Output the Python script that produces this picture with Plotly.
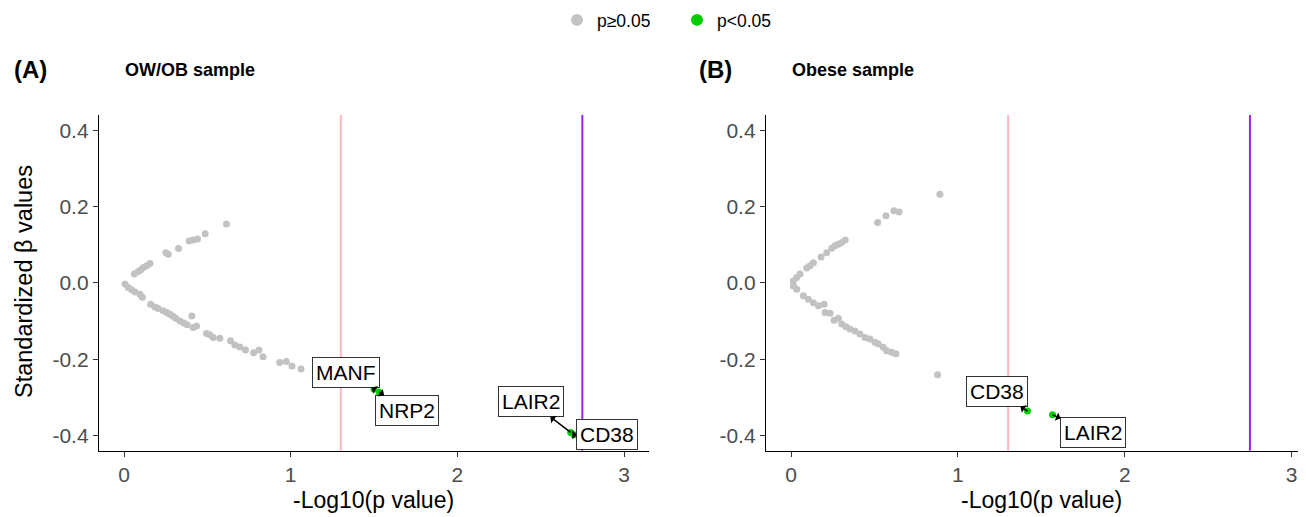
import plotly.graph_objects as go

# ---------------- data ----------------
# Panel A (OW/OB sample): non-significant points
a_grey_x = [0.615, 0.487, 0.441, 0.415, 0.391, 0.327, 0.265, 0.251, 0.156, 0.136, 0.116, 0.100, 0.086, 0.062,
            0.006, 0.026, 0.046, 0.066, 0.096, 0.110,
            0.160, 0.186, 0.205, 0.235, 0.256, 0.275, 0.292, 0.311, 0.335, 0.359, 0.379, 0.407, 0.415, 0.435,
            0.495, 0.515, 0.535, 0.575, 0.639, 0.665, 0.695, 0.729, 0.778, 0.810, 0.834, 0.934, 0.974, 1.008, 1.062]
a_grey_y = [0.154, 0.129, 0.115, 0.112, 0.110, 0.090, 0.075, 0.079, 0.051, 0.045, 0.040, 0.034, 0.030, 0.023,
            -0.003, -0.012, -0.018, -0.024, -0.030, -0.038,
            -0.056, -0.063, -0.067, -0.073, -0.078, -0.082, -0.087, -0.093, -0.100, -0.105, -0.110, -0.087, -0.117, -0.113,
            -0.133, -0.136, -0.143, -0.145, -0.152, -0.163, -0.168, -0.176, -0.183, -0.176, -0.194, -0.209, -0.206, -0.218, -0.226]
# Panel A significant genes
a_genes = ["MANF", "NRP2", "LAIR2", "CD38"]
a_sig_x = [1.50, 1.53, 2.68, 2.70]
a_sig_y = [-0.278, -0.286, -0.392, -0.398]
a_lab_x = [1.334, 1.70, 2.44, 2.90]
a_lab_y = [-0.235, -0.334, -0.312, -0.397]

# Panel B (Obese sample): non-significant points
b_grey_x = [0.892, 0.647, 0.617, 0.569, 0.519, 0.325, 0.303, 0.283, 0.263, 0.244, 0.214, 0.180,
            0.134, 0.114, 0.094, 0.054, 0.034, 0.014, 0.014, 0.034,
            0.074, 0.104, 0.134, 0.164, 0.198, 0.204, 0.234, 0.258, 0.284, 0.304, 0.329, 0.353,
            0.383, 0.413, 0.443, 0.473, 0.503, 0.523, 0.553, 0.573, 0.603, 0.629, 0.878]
b_grey_y = [0.232, 0.186, 0.189, 0.176, 0.158, 0.112, 0.106, 0.101, 0.097, 0.091, 0.079, 0.068,
            0.053, 0.045, 0.039, 0.023, 0.014, 0.005, -0.008, -0.017,
            -0.034, -0.043, -0.052, -0.060, -0.056, -0.078, -0.080, -0.098, -0.093, -0.108, -0.115, -0.121,
            -0.126, -0.134, -0.143, -0.147, -0.156, -0.160, -0.169, -0.178, -0.182, -0.186, -0.241]
b_genes = ["CD38", "LAIR2"]
b_sig_x = [1.417, 1.567]
b_sig_y = [-0.336, -0.346]
b_lab_x = [1.232, 1.81]
b_lab_y = [-0.285, -0.392]

thresholds = [1.301, 2.75]
threshold_colors = ["#FFB6C1", "#A020F0"]

legend_names = ["p\u22650.05", "p<0.05"]
grey = "#C2C2C2"
green = "#00CD00"
font = "Liberation Sans, Arial, sans-serif"

# page body has an 8px margin; figure is sized to fill the rest of the window
OFF = 8
W, H = 1306 - OFF, 517 - OFF
def px_x(p):
    return (p - OFF) / W
def px_y(p):
    return 1 - (p - OFF) / H

fig = go.Figure()
fig.add_trace(go.Scatter(x=a_grey_x, y=a_grey_y, mode="markers", name=legend_names[0],
                         marker=dict(color=grey, size=7), xaxis="x", yaxis="y", legendgroup="g"))
fig.add_trace(go.Scatter(x=a_sig_x, y=a_sig_y, mode="markers", name=legend_names[1],
                         marker=dict(color=green, size=7), xaxis="x", yaxis="y", legendgroup="s"))
fig.add_trace(go.Scatter(x=b_grey_x, y=b_grey_y, mode="markers", name=legend_names[0], showlegend=False,
                         marker=dict(color=grey, size=7), xaxis="x2", yaxis="y2", legendgroup="g"))
fig.add_trace(go.Scatter(x=b_sig_x, y=b_sig_y, mode="markers", name=legend_names[1], showlegend=False,
                         marker=dict(color=green, size=7), xaxis="x2", yaxis="y2", legendgroup="s"))

shapes = []
for xr, yr in [("x", "y"), ("x2", "y2")]:
    for t, c in zip(thresholds, threshold_colors):
        shapes.append(dict(type="line", xref=xr, yref=yr + " domain", x0=t, x1=t, y0=0, y1=1,
                           line=dict(color=c, width=2), layer="below"))

annotations = []
def add_labels(genes, px_, py_, lx, ly, xr, yr):
    for g, x, y, tx, ty in zip(genes, px_, py_, lx, ly):
        annotations.append(dict(x=x, y=y, xref=xr, yref=yr, ax=tx, ay=ty, axref=xr, ayref=yr,
                                text=g, showarrow=True, arrowhead=2, arrowside="start", arrowsize=0.8,
                                arrowwidth=1.5, arrowcolor="black", standoff=0, startstandoff=0,
                                bgcolor="white", bordercolor="#333333", borderwidth=1, borderpad=3,
                                font=dict(family=font, size=21, color="black")))
add_labels(a_genes, a_sig_x, a_sig_y, a_lab_x, a_lab_y, "x", "y")
add_labels(b_genes, b_sig_x, b_sig_y, b_lab_x, b_lab_y, "x2", "y2")

# panel titles
for txt, x0 in [("(A)", 12), ("(B)", 697)]:
    annotations.append(dict(text="<b>" + txt + "</b>", x=px_x(x0), y=px_y(70), xref="paper", yref="paper",
                            xanchor="left", yanchor="middle", showarrow=False,
                            font=dict(family=font, size=24, color="black")))
for txt, x0 in [("OW/OB sample", 123), ("Obese sample", 790)]:
    annotations.append(dict(text="<b>" + txt + "</b>", x=px_x(x0), y=px_y(70), xref="paper", yref="paper",
                            xanchor="left", yanchor="middle", showarrow=False,
                            font=dict(family=font, size=18, color="black")))
# axis titles
for cx in [374, 1041]:
    annotations.append(dict(text="-Log10(p value)", x=px_x(cx), y=px_y(500), xref="paper", yref="paper",
                            xanchor="center", yanchor="middle", showarrow=False,
                            font=dict(family=font, size=23, color="black")))
annotations.append(dict(text="Standardized \u03b2 values", x=px_x(24), y=px_y(282), xref="paper", yref="paper",
                        xanchor="center", yanchor="middle", showarrow=False, textangle=-90,
                        font=dict(family=font, size=23.5, color="black")))

ydom = [px_y(450.7), px_y(115)]
common_x = dict(showgrid=False, zeroline=False, showline=True, linecolor="black", linewidth=1.4,
                ticks="outside", ticklen=5, tickwidth=1.4, tickcolor="#333333",
                tickvals=[0, 1, 2, 3], tickfont=dict(family=font, size=21, color="#4D4D4D"))
common_y = dict(showgrid=False, zeroline=False, showline=True, linecolor="black", linewidth=1.4,
                ticks="outside", ticklen=5, tickwidth=1.4, tickcolor="#333333",
                tickvals=[-0.4, -0.2, 0.0, 0.2, 0.4], ticktext=["-0.4", "-0.2", "0.0", "0.2", "0.4"],
                range=[-0.44, 0.44], tickfont=dict(family=font, size=21, color="#4D4D4D"))

fig.update_layout(
    width=W, height=H,
    margin=dict(l=0, r=0, t=0, b=0, autoexpand=False),
    plot_bgcolor="white", paper_bgcolor="white",
    font=dict(family=font),
    xaxis=dict(domain=[px_x(99), px_x(649)], range=[-0.15, 3.15], anchor="y", **common_x),
    yaxis=dict(domain=ydom, anchor="x", **common_y),
    xaxis2=dict(domain=[px_x(766), 1.0], range=[-0.15, 3.086], anchor="y2", **common_x),
    yaxis2=dict(domain=ydom, anchor="x2", **common_y),
    shapes=shapes,
    annotations=annotations,
    showlegend=True,
    legend=dict(orientation="h", x=px_x(557), xanchor="left", y=px_y(2), yanchor="top",
                font=dict(family=font, size=17.5, color="black"), itemsizing="constant",
                entrywidth=75, bgcolor="rgba(0,0,0,0)"),
)

fig.write_html("out.html")
